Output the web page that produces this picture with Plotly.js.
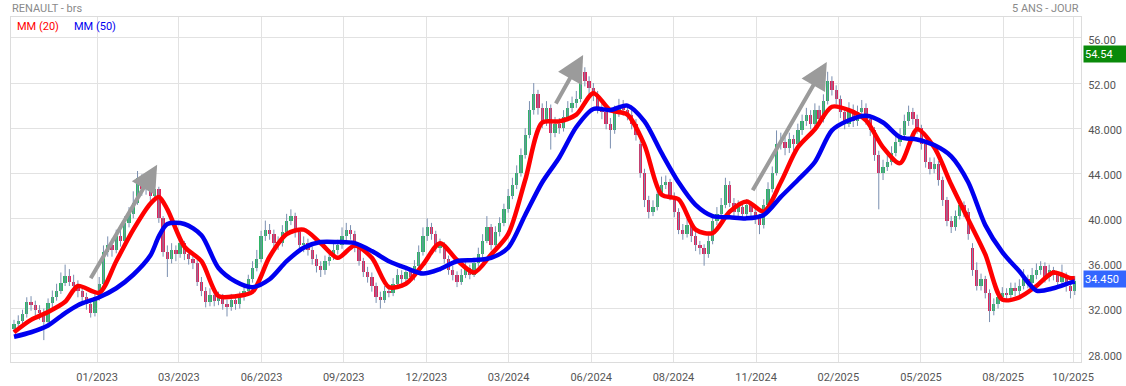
<!DOCTYPE html>
<html>
<head>
<meta charset="utf-8">
<script src="https://cdn.plot.ly/plotly-3.0.1.min.js"></script>
<style>html,body{margin:0;padding:0;background:#fff;}#chart{width:1126px;height:386px;}</style>
</head>
<body>
<div id="chart"></div>
<script>
// ---- DATA (one candle per ~3 trading days) ----
const opens = [30.2,30.6,30.9,31.5,32.6,32.3,31.9,31.6,30.8,32.5,
33.0,33.6,34.3,34.9,34.4,34.0,33.6,33.0,32.4,31.6,
33.0,34.2,37.0,37.6,37.2,38.4,38.0,39.6,40.4,41.4,
43.6,42.6,43.0,42.0,42.6,40.0,37.0,36.4,37.2,36.8,
37.8,36.8,36.4,36.0,34.4,33.6,32.6,33.2,32.7,33.0,
32.4,32.1,32.8,32.4,33.0,33.6,34.6,35.6,36.4,38.4,
39.0,38.6,37.8,37.8,38.8,39.8,40.2,38.8,37.6,37.8,
37.2,36.4,35.8,35.4,36.2,36.6,37.2,37.6,38.4,39.0,
38.6,37.4,36.2,35.2,34.8,34.0,33.0,32.8,33.6,33.4,
34.2,35.0,34.6,35.2,34.8,35.8,37.0,38.4,39.2,38.6,
37.4,37.6,36.4,35.4,35.0,34.4,35.0,35.6,35.0,36.0,
36.8,38.0,39.2,37.6,38.8,39.6,40.8,42.0,43.0,44.0,
45.6,47.4,49.6,51.0,49.8,48.6,49.8,47.6,48.4,48.0,
49.0,49.8,50.2,50.6,53.0,52.2,51.6,51.0,49.8,49.4,
48.4,47.8,49.4,50.0,49.6,49.2,48.4,46.6,44.0,41.6,
40.6,41.0,42.2,43.0,43.2,42.0,40.6,39.0,38.6,39.4,
38.4,37.6,37.4,36.8,38.0,39.8,40.4,41.2,43.0,41.4,
40.6,41.0,40.4,41.2,40.6,40.0,39.4,41.2,42.6,44.0,
46.6,46.8,46.2,47.0,46.6,47.8,48.6,49.2,48.4,49.6,
48.8,50.4,52.2,51.4,50.6,49.4,48.4,49.6,48.6,49.4,
49.8,48.8,47.8,45.6,44.0,44.6,45.0,45.8,46.8,47.4,
48.6,49.4,48.8,48.0,46.6,45.0,44.4,44.8,43.4,41.6,
39.8,39.2,40.2,41.2,40.6,37.4,35.4,34.0,34.6,33.4,
31.8,32.4,33.0,33.4,33.2,33.8,33.6,34.0,34.6,34.3,
35.0,35.4,35.8,34.8,35.4,35.0,34.4,34.9,34.0,33.6];

const highs = [31.0,31.4,31.9,33.0,33.1,32.7,32.3,32.0,32.9,33.6,
34.2,35.2,35.9,35.5,35.0,34.5,34.0,33.4,32.8,33.4,
34.8,37.6,38.4,38.2,39.0,39.1,40.2,41.0,42.4,44.2,
43.9,43.7,43.3,43.2,42.8,40.2,37.6,37.8,37.6,38.5,
38.0,37.3,36.9,36.3,34.8,33.9,33.8,33.6,33.5,33.3,
32.8,33.3,33.2,33.5,34.1,35.0,36.2,37.2,38.9,39.8,
39.5,39.0,38.4,39.4,40.4,40.8,40.5,39.1,38.4,38.2,
37.5,36.8,36.2,36.7,37.1,37.8,38.1,39.2,39.6,39.4,
38.9,37.7,36.5,35.7,35.2,34.3,33.5,34.0,34.1,34.7,
35.5,35.4,35.7,35.6,36.3,37.6,39.2,40.0,39.6,38.9,
38.2,37.9,36.7,35.8,35.3,35.5,36.1,35.9,36.5,37.4,
38.6,40.2,39.5,39.3,40.1,41.3,42.6,43.6,44.7,46.2,
48.0,50.4,52.0,51.4,50.2,50.4,50.1,49.0,48.9,49.6,
50.4,50.8,51.3,53.8,53.4,52.6,52.0,51.3,50.3,49.8,
48.9,50.0,50.6,50.5,50.1,49.6,48.8,46.9,44.4,42.0,
41.6,42.8,43.7,43.8,43.5,42.3,40.9,39.5,40.0,39.8,
38.8,38.0,37.7,38.5,40.3,41.0,41.8,43.6,43.3,41.8,
41.6,41.4,41.7,41.5,41.0,40.4,41.7,43.2,44.6,47.8,
47.6,47.2,47.6,47.4,48.4,49.2,49.8,49.6,50.2,50.0,
51.0,53.0,52.6,51.8,50.9,49.8,50.3,50.1,50.0,50.5,
50.2,49.2,48.1,46.0,45.2,45.6,46.4,47.4,48.0,49.2,
50.0,49.8,49.2,48.3,46.9,45.4,45.4,45.1,43.7,41.9,
40.2,40.7,41.7,41.5,40.9,37.8,36.1,35.1,34.9,33.7,
32.9,33.5,33.9,33.8,34.3,34.3,34.6,35.5,35.0,35.6,
36.0,36.2,36.1,35.9,35.7,35.3,35.9,35.2,34.4,34.9];

const lows = [29.9,30.3,30.6,31.2,31.8,31.4,31.0,29.2,30.6,32.1,
32.7,33.3,34.0,34.0,33.5,33.0,32.6,31.9,31.2,31.3,
32.7,34.0,36.6,36.6,36.9,37.5,37.8,39.2,40.0,41.2,
42.0,42.1,41.4,41.6,39.6,36.6,34.8,36.0,36.2,36.5,
36.3,35.9,35.5,34.0,33.1,32.1,32.2,32.2,32.3,31.9,
31.3,31.8,31.9,32.0,32.7,33.3,34.3,35.3,36.1,38.0,
38.1,37.3,37.2,37.5,38.5,39.4,38.3,37.1,37.0,36.7,
35.9,35.2,34.8,35.0,35.8,36.3,36.8,37.3,38.0,38.1,
37.0,35.8,34.8,34.3,33.5,32.5,32.0,32.5,33.0,33.1,
33.9,34.1,34.3,34.3,34.5,35.5,36.7,38.0,38.1,37.0,
36.9,36.0,35.0,34.5,33.9,34.1,34.7,34.6,34.8,35.7,
36.5,37.8,37.2,37.3,38.4,39.3,40.5,41.7,42.6,43.7,
45.3,47.1,49.2,49.2,48.0,48.2,46.1,47.2,47.5,47.7,
48.6,49.4,49.8,50.3,51.7,51.0,50.4,49.3,48.8,47.9,
46.2,47.5,49.0,49.1,48.7,47.9,46.9,43.6,41.0,40.0,
40.2,40.7,41.9,42.6,41.6,40.1,38.6,38.1,38.3,37.9,
37.1,36.8,35.8,36.5,37.7,39.4,40.0,40.9,41.0,40.1,
40.2,39.9,40.1,40.1,39.5,38.6,39.1,40.9,42.3,43.8,
46.1,45.6,45.8,46.0,46.3,47.4,48.2,47.9,48.1,48.3,
48.5,50.1,50.9,50.1,48.9,47.9,48.1,48.1,48.2,49.0,
48.3,47.3,45.1,40.8,43.4,44.2,44.7,45.5,46.4,47.1,
48.2,48.3,47.5,46.1,44.5,43.9,44.0,42.9,41.1,39.3,
38.7,38.9,39.9,40.1,38.1,34.9,33.6,33.6,32.9,30.8,
31.4,32.0,32.6,32.7,32.9,33.1,33.2,33.7,33.8,34.0,
34.6,35.0,34.3,34.4,34.5,33.9,34.1,33.5,32.9,33.2];

const closes = [30.6,30.9,31.5,32.6,32.3,31.9,31.6,30.8,32.5,33.0,
33.6,34.3,34.9,34.4,34.0,33.6,33.0,32.4,31.6,33.0,
34.2,37.0,37.6,37.2,38.4,38.0,39.6,40.4,41.4,43.6,
42.6,43.0,42.0,42.6,40.0,37.0,36.4,37.2,36.8,37.8,
36.8,36.4,36.0,34.4,33.6,32.6,33.2,32.7,33.0,32.4,
32.1,32.8,32.4,33.0,33.6,34.6,35.6,36.4,38.4,39.0,
38.6,37.8,37.8,38.8,39.8,40.2,38.8,37.6,37.8,37.2,
36.4,35.8,35.4,36.2,36.6,37.2,37.6,38.4,39.0,38.6,
37.4,36.2,35.2,34.8,34.0,33.0,32.8,33.6,33.4,34.2,
35.0,34.6,35.2,34.8,35.8,37.0,38.4,39.2,38.6,37.4,
37.6,36.4,35.4,35.0,34.4,35.0,35.6,35.0,36.0,36.8,
38.0,39.2,37.6,38.8,39.6,40.8,42.0,43.0,44.0,45.6,
47.4,49.6,51.0,49.8,48.6,49.8,47.6,48.4,48.0,49.0,
49.8,50.2,50.6,53.0,52.2,51.6,51.0,49.8,49.4,48.4,
47.8,49.4,50.0,49.6,49.2,48.4,47.4,44.0,41.6,40.6,
41.0,42.2,43.0,43.2,42.0,40.6,39.0,38.6,39.4,38.4,
37.6,37.4,36.8,38.0,39.8,40.4,41.2,43.0,41.4,40.6,
41.0,40.4,41.2,40.6,40.0,39.4,41.2,42.6,44.0,46.6,
46.8,46.2,47.0,46.6,47.8,48.6,49.2,48.4,49.6,48.8,
50.4,52.2,51.4,50.6,49.4,48.4,49.6,48.6,49.4,49.8,
48.8,47.8,45.6,44.0,44.6,45.0,45.8,46.8,47.4,48.6,
49.4,48.8,48.0,46.6,45.0,44.4,44.8,43.4,41.6,39.8,
39.2,40.2,41.2,40.6,38.6,35.4,34.0,34.6,33.4,31.8,
32.4,33.0,33.4,33.2,33.8,33.6,34.0,34.6,34.3,35.0,
35.4,35.8,34.8,35.4,35.0,34.4,34.9,34.0,33.6,34.45];

// moving averages at these candle positions
const maIdx = [0,4,8,12,15,20,24,28,32,34,36,40,44,48,52,56,60,64,68,72,76,80,84,88,92,96,100,
104,108,112,116,120,124,128,132,136,140,144,148,152,156,160,164,168,172,176,180,184,188,192,
196,200,204,208,212,216,220,224,228,232,236,240,244,248,249];
const mm20 = [29.9,31.0,31.7,32.6,34.0,33.4,36.2,39.0,41.3,41.9,40.8,37.5,36.2,33.1,33.1,33.5,36.6,
38.6,39.0,37.8,36.5,37.6,36.5,33.9,34.2,35.9,37.8,36.3,35.2,36.8,38.6,43.4,48.5,48.6,49.2,
51.1,49.6,49.2,46.5,42.1,41.7,39.0,38.7,40.6,41.5,40.6,43.2,46.3,47.9,49.9,49.6,48.7,46.3,
44.9,47.9,46.3,43.0,39.9,36.8,32.8,33.0,34.0,35.2,34.7,34.7];
const mm50 = [29.5,29.9,30.5,31.6,32.3,33.0,33.8,35.0,36.7,38.4,39.5,39.5,38.5,35.6,34.4,33.9,34.6,
36.2,37.4,37.9,37.9,37.8,37.1,36.2,35.6,35.1,35.5,36.2,36.3,36.5,37.4,40.3,43.2,45.4,48.1,
49.7,49.6,50.0,48.6,45.8,43.2,41.2,40.2,40.1,40.0,40.3,41.9,43.4,45.0,47.8,48.7,49.1,48.5,
47.2,47.0,46.5,45.5,43.2,39.4,37.0,35.3,33.6,33.8,34.3,34.4];

const tickLabels = ['01/2023','03/2023','06/2023','09/2023','12/2023','03/2024','06/2024',
  '08/2024','11/2024','02/2025','05/2025','08/2025','10/2025'];
const priceTicks = [28,32,36,40,44,48,52,56];
const priceTickText = ['28.000','32.000','36.000','40.000','44.000','48.000','52.00','56.00'];
const highLabel = 54.54;
const lastLabel = 34.45;

// ---- LAYOUT HELPERS ----
const tickPos = [19.5,38.7,58.1,77.4,96.8,116.1,135.5,154.8,174.2,193.5,212.9,232.2,248.6];

const idx = closes.map((_, i) => i);
const wx = [], wy = [];
idx.forEach(i => { wx.push(i, i, null); wy.push(lows[i], highs[i], null); });
const bodyBase = idx.map(i => Math.min(opens[i], closes[i]));
const bodyH = idx.map(i => Math.max(Math.abs(closes[i] - opens[i]), 0.1));
const bodyCol = idx.map(i => closes[i] >= opens[i] ? '#2fb466' : '#e0245a');

const font = 'Roboto, "Open Sans", sans-serif';

const traces = [
  {type:'scatter', mode:'lines', x:wx, y:wy, line:{color:'#7a8fb0', width:1}, hoverinfo:'skip'},
  {type:'bar', x:idx, y:bodyH, base:bodyBase, width:0.78,
   marker:{color:bodyCol, line:{width:0}}, hoverinfo:'skip'},
  {type:'scatter', mode:'lines', x:maIdx, y:mm20, line:{color:'#ff0000', width:4.5, shape:'spline', smoothing:0.8}},
  {type:'scatter', mode:'lines', x:maIdx, y:mm50, line:{color:'#0000f0', width:4.5, shape:'spline', smoothing:0.8}}
];

const arrowBase = {showarrow:true, text:'', arrowhead:2, arrowsize:1.35, arrowwidth:4,
  arrowcolor:'#9b9b9b', axref:'x', ayref:'y', xref:'x', yref:'y', standoff:0};

const layout = {
  width:1126, height:386,
  margin:{l:11, r:45, t:17, b:24},
  paper_bgcolor:'#ffffff', plot_bgcolor:'#ffffff',
  showlegend:false, hovermode:false, bargap:0,
  xaxis:{range:[-0.704, 250.47], tickmode:'array', tickvals:tickPos, ticktext:tickLabels,
    showgrid:true, gridcolor:'#e2e2e2', gridwidth:1, zeroline:false, showline:true, mirror:true,
    linecolor:'#dcdcdc', linewidth:1, ticks:'', ticklabelstandoff:5,
    tickfont:{family:font, size:11, color:'#555'}, fixedrange:true},
  yaxis:{side:'right', range:[27.26, 57.86], tickmode:'array', tickvals:priceTicks, ticktext:priceTickText,
    showgrid:true, gridcolor:'#e2e2e2', gridwidth:1, zeroline:false, showline:true, mirror:true,
    linecolor:'#dcdcdc', linewidth:1, ticks:'', ticklabelstandoff:4, ticklabelshift:2,
    tickfont:{family:font, size:11, color:'#555'}, fixedrange:true},
  annotations:[
    Object.assign({}, arrowBase, {x:33.6, y:44.75, ax:17.8, ay:34.56}),
    Object.assign({}, arrowBase, {x:133.6, y:54.5, ax:127.0, ay:50.06}),
    Object.assign({}, arrowBase, {x:190.8, y:53.87, ax:173.2, ay:42.36}),
    {xref:'paper', yref:'paper', x:0, y:1.0232, xanchor:'left', yanchor:'middle', xshift:-1,
     text:'RENAULT - brs', showarrow:false, font:{family:font, size:11, color:'#8a8a8a'}},
    {xref:'paper', yref:'paper', x:1, y:1.0232, xanchor:'right', yanchor:'middle',
     text:'5 ANS - JOUR', showarrow:false, font:{family:font, size:11, color:'#8a8a8a'}},
    {xref:'paper', yref:'paper', x:0.0037, y:0.9739, xanchor:'left', yanchor:'middle',
     text:'MM (20)', showarrow:false, font:{family:font, size:11, color:'#ff0000'}},
    {xref:'paper', yref:'paper', x:0.0570, y:0.9739, xanchor:'left', yanchor:'middle',
     text:'MM (50)', showarrow:false, font:{family:font, size:11, color:'#0000f0'}},
    {xref:'paper', yref:'y', x:1, y:highLabel, xanchor:'left', yanchor:'middle', xshift:2,
     text:highLabel.toFixed(2), showarrow:false, bgcolor:'#0a8a0a', width:41, height:14,
     borderpad:1, align:'left', font:{family:font, size:11, color:'#ffffff'}},
    {xref:'paper', yref:'y', x:1, y:lastLabel, xanchor:'left', yanchor:'middle', xshift:2, yshift:2,
     text:lastLabel.toFixed(3), showarrow:false, bgcolor:'#3366ff', width:41, height:14,
     borderpad:1, align:'left', font:{family:font, size:11, color:'#ffffff'}}
  ]
};

Plotly.newPlot('chart', traces, layout, {displayModeBar:false, staticPlot:true});
</script>
</body>
</html>
